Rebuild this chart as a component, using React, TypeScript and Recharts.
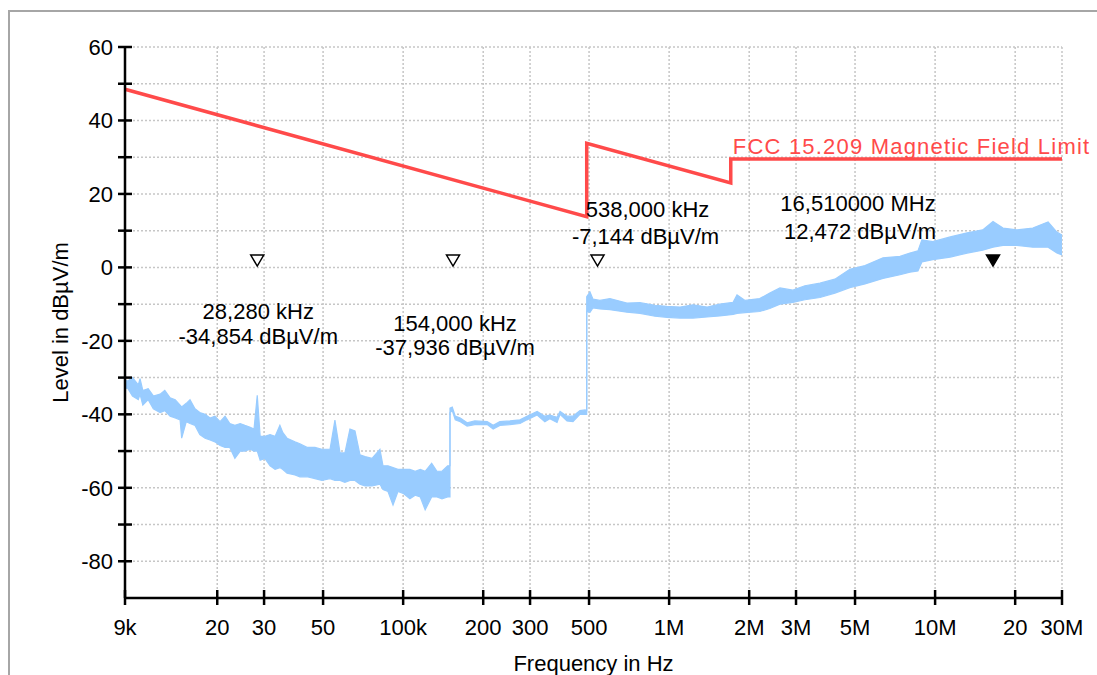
import React from 'react';
import {
  ComposedChart, Area, Line, Scatter, XAxis, YAxis, CartesianGrid,
} from 'recharts';

// frequency axis
const freqTicks = [9000, 20000, 30000, 50000, 100000, 200000, 300000, 500000, 1e6, 2e6, 3e6, 5e6, 1e7, 2e7, 3e7];
const freqTickLabels = ['9k', '20', '30', '50', '100k', '200', '300', '500', '1M', '2M', '3M', '5M', '10M', '20', '30M'];

// level axis
const levelTicks = [-80, -70, -60, -50, -40, -30, -20, -10, 0, 10, 20, 30, 40, 50, 60];
const levelLabels = [-80, -60, -40, -20, 0, 20, 40, 60];

// FCC 15.209 limit (dBµV/m)
const limitFreq = [9000, 490000, 490000, 1705000, 1705000, 30000000];
const limitLevel = [48.5, 13.8, 33.8, 23.0, 29.5, 29.5];

// measured spectrum, min / max envelope of the trace
const spectrumFreq = [
  9000, 9200, 9600, 10100, 10250, 10500, 11000, 11500, 12200, 12700, 13300, 13900, 14500, 14700, 15300, 15800,
  16500, 17200, 18000, 18800, 19600, 20500, 21400, 22300, 23300, 24400, 25400, 26600, 27500, 28280, 29000, 30200,
  31600, 33000, 34400, 35300, 36600, 39200, 40900, 43500, 46600, 49500, 53100, 55400, 57900, 60400, 63100, 65900,
  68800, 71900, 76400, 81800, 84000, 87700, 91600, 95600, 100000, 106000, 111000, 116000, 121000, 128000, 134000,
  140000, 147000, 150000,
  150000, 153000, 157000, 164000, 174000, 186000, 207000, 218000, 231000, 252000, 275000, 292000, 319000, 341000,
  356000, 379000, 389000, 413000, 435000, 462000, 483000, 490000,
  490000, 504000, 517000, 549000, 599000, 694000, 777000, 885000, 981000, 1100000, 1230000, 1390000, 1550000,
  1740000, 1800000, 1930000, 2190000, 2390000, 2610000, 2920000, 3240000, 3690000, 4200000, 4780000, 5450000,
  6370000, 7380000, 8040000, 8620000, 8920000, 9810000, 11400000, 13200000, 15100000, 16510000, 18000000,
  20300000, 23300000, 26600000, 28700000, 30000000,
];
const spectrumLow = [
  -33, -32.8, -35, -36, -34.5, -37.5, -36, -38.5, -39.5, -39, -40.5, -41, -41.5, -46.5, -42, -42.5,
  -43, -45.5, -46.5, -47, -47.5, -48.5, -49, -49, -52, -50, -50, -49.5, -50, -50, -52.5, -52,
  -54, -55, -54.5, -55, -56, -56.5, -57, -57, -57.5, -58, -57.5, -58, -58, -58.5, -58, -58,
  -59, -59.5, -59.5, -59, -60.5, -61, -64.7, -61, -61.5, -63, -62, -62.5, -66, -62.5, -62.5,
  -63, -62.5, -62.5,
  -39.5, -39, -41.5, -42, -43.2, -42.8, -42.8, -44, -43, -42.8, -42.5, -41.5, -40.2, -42,
  -41.2, -42.2, -40, -41.8, -42, -40, -40, -40,
  -12, -12.2, -11, -11.3, -11.5, -12.2, -12.5, -13.3, -13.6, -13.8, -13.8, -13.5, -13.2,
  -12.8, -12.5, -12.3, -12, -11.2, -10, -9.5, -8.8, -8.2, -7, -5.5, -4.5,
  -3, -2, -1.3, -1, 1.5, 2.1, 2.8, 3.9, 4.7, 5.5, 6,
  6, 5.5, 5.5, 3.9, 3.4,
];
const spectrumHigh = [
  -30.5, -31, -30, -32, -30.3, -33.5, -33, -35, -34.5, -33.5, -35.5, -36, -37.5, -38, -37, -36,
  -38.5, -39.5, -40, -41, -40.5, -42, -40.5, -42.5, -43, -42.5, -43, -43.5, -44, -34.8, -46, -46,
  -45.5, -46, -43, -45, -46.5, -47.5, -48, -49, -49, -49.5, -49.5, -41.6, -50.5, -50.5, -44, -44.5,
  -51, -51.5, -52, -49.5, -54, -54, -54.5, -55, -55, -55, -55.5, -55, -55.5, -53.3, -55.5,
  -55.5, -54, -54,
  -38.3, -38, -40.5, -41, -42.3, -41.8, -42, -43, -42, -41.8, -41.5, -40.5, -39.2, -40.5,
  -40.2, -40.8, -39.2, -40.5, -40.5, -39, -38.8, -39,
  -8, -6.7, -8.6, -9, -8.5, -9.7, -9.6, -10.3, -10.6, -10.8, -10.2, -10.8, -10,
  -9.5, -7.5, -9, -8.5, -7, -5.6, -6.2, -5, -4.3, -3.2, -0.5, 0.5,
  2.6, 3, 3.9, 4.5, 7.5, 7, 8.3, 9.4, 10.2, 12.5, 10.7,
  10.2, 10.7, 12.4, 9.6, 8.8,
];

// markers
const markerFreq = [28280, 154000, 538000, 16510000];
const markerFreqText = ['28,280 kHz', '154,000 kHz', '538,000 kHz', '16,510000 MHz'];
const markerLevelText = ['-34,854 dBµV/m', '-37,936 dBµV/m', '-7,144 dBµV/m', '12,472 dBµV/m'];
const markerRowLevel = 2;
const activeMarker = 3;

const limitData = limitFreq.map((f, i) => ({ f, level: limitLevel[i] }));
const spectrumData = spectrumFreq.map((f, i) => ({ f, range: [spectrumLow[i], spectrumHigh[i]] }));
const markerData = markerFreq.map(f => ({ f, level: markerRowLevel }));
const limitLabelData = [{ f: limitFreq[4], level: limitLevel[4] }];

// where each marker's readout sits relative to its triangle
const readoutOffsets = [
  { dx1: 1, dy1: 51, dx2: 1, dy2: 76 },
  { dx1: 2, dy1: 63, dx2: 2, dy2: 87 },
  { dx1: 50, dy1: -51, dx2: 48, dy2: -24 },
  { dx1: -135, dy1: -57, dx2: -133, dy2: -29 },
];

const FONT = 22;

function XTick({ x, y, payload }: any) {
  const i = freqTicks.indexOf(payload.value);
  return (
    <g>
      <line x1={x} x2={x} y1={y - 16} y2={y - 1} stroke="#000" strokeWidth={2.5} />
      <text x={x} y={y + 29} textAnchor="middle" fontSize={FONT} fill="#000">{freqTickLabels[i]}</text>
    </g>
  );
}

function YTick({ x, y, payload }: any) {
  const show = levelLabels.includes(payload.value);
  return (
    <g>
      <line x1={x + 5} x2={x + 19} y1={y} y2={y} stroke="#000" strokeWidth={2.5} />
      {show && (
        <text x={x} y={y + 8} textAnchor="end" fontSize={FONT} fill="#000">{payload.value}</text>
      )}
    </g>
  );
}

function YTitle({ viewBox }: any) {
  const vb = viewBox || { x: 0, y: 39, width: 117, height: 551 };
  const cx = vb.x + 52;
  const cy = vb.y + vb.height / 2;
  return (
    <text x={cx} y={cy} transform={`rotate(-90 ${cx} ${cy})`} textAnchor="middle"
      dominantBaseline="central" fontSize={FONT} fill="#000">
      Level in dBµV/m
    </text>
  );
}

function XTitle({ viewBox }: any) {
  const vb = viewBox || { x: 117, y: 590, width: 937, height: 77 };
  return (
    <text x={vb.x + vb.width / 2} y={vb.y + 73} textAnchor="middle" fontSize={FONT} fill="#000">
      Frequency in Hz
    </text>
  );
}

function MarkerShape({ cx, cy, payload }: any) {
  const i = markerFreq.indexOf(payload.f);
  const o = readoutOffsets[i];
  const filled = i === activeMarker;
  return (
    <g>
      <polygon
        points={`${cx - 6.5},${cy - 5} ${cx + 6.5},${cy - 5} ${cx},${cy + 6}`}
        fill={filled ? '#000' : '#fff'} stroke="#000" strokeWidth={1.5}
      />
      <text x={cx + o.dx1} y={cy + o.dy1} textAnchor="middle" dominantBaseline="central" fontSize={FONT} fill="#000">
        {markerFreqText[i]}
      </text>
      <text x={cx + o.dx2} y={cy + o.dy2} textAnchor="middle" dominantBaseline="central" fontSize={FONT} fill="#000">
        {markerLevelText[i]}
      </text>
    </g>
  );
}

function LimitLabel({ cx, cy }: any) {
  return (
    <text x={cx + 2} y={cy - 5} fontSize={FONT} letterSpacing={1.2} fill="#ff4a4a">
      FCC 15.209 Magnetic Field Limit
    </text>
  );
}

export default function App() {
  return (
    <div style={{
      position: 'absolute', left: 8, top: 8, width: 1089, height: 667, overflow: 'hidden',
      background: '#fff', fontFamily: '"Liberation Sans", Arial, sans-serif',
    }}>
      <div style={{
        position: 'absolute', left: 0, top: 2, width: 1200, height: 800,
        borderTop: '2px solid #a6a6a6', borderLeft: '2px solid #a6a6a6',
      }} />
      <div style={{ position: 'absolute', left: 0, top: 0 }}>
        <ComposedChart width={1089} height={667} margin={{ top: 39, right: 35, bottom: 0, left: 0 }}>
          <CartesianGrid stroke="#c6c6c6" strokeDasharray="2 2" strokeWidth={1.5} />
          <XAxis
            dataKey="f"
            type="number"
            scale="log"
            domain={[9000, 30000000]}
            ticks={freqTicks}
            interval={0}
            height={77}
            tickSize={8}
            tickMargin={0}
            tickLine={false}
            axisLine={{ stroke: '#000', strokeWidth: 2.5 }}
            tick={<XTick />}
            label={<XTitle />}
          />
          <YAxis
            type="number"
            domain={[-90, 60]}
            ticks={levelTicks}
            interval={0}
            width={117}
            tickSize={7}
            tickMargin={5}
            tickLine={false}
            axisLine={{ stroke: '#000', strokeWidth: 2.5 }}
            tick={<YTick />}
            label={<YTitle />}
          />
          <Area
            data={spectrumData}
            dataKey="range"
            type="linear"
            stroke="#99ccff"
            strokeWidth={1.2}
            fill="#99ccff"
            fillOpacity={1}
            dot={false}
            activeDot={false}
            isAnimationActive={false}
          />
          <Line
            data={limitData}
            dataKey="level"
            type="linear"
            stroke="#ff4a4a"
            strokeWidth={3.5}
            dot={false}
            activeDot={false}
            isAnimationActive={false}
          />
          <Scatter
            data={limitLabelData}
            dataKey="level"
            shape={(p: any) => <LimitLabel {...p} />}
            isAnimationActive={false}
          />
          <Scatter
            data={markerData}
            dataKey="level"
            shape={(p: any) => <MarkerShape {...p} />}
            isAnimationActive={false}
          />
        </ComposedChart>
      </div>
    </div>
  );
}
